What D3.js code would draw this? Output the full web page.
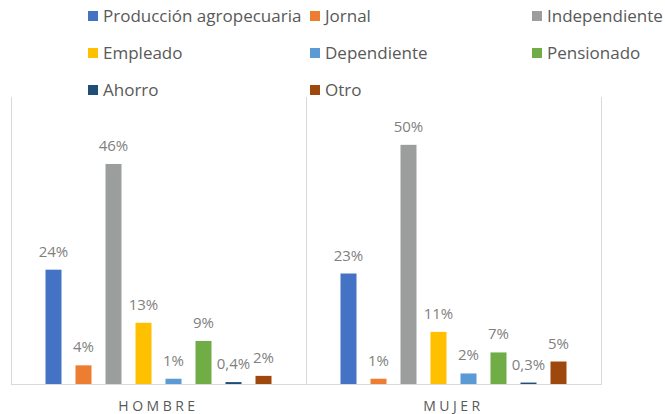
<!DOCTYPE html>
<html>
<head>
<meta charset="utf-8">
<script src="https://cdn.jsdelivr.net/npm/d3@7"></script>
<style>
  body { margin: 0; background: #fff; }
  text { font-family: "Open Sans", "Noto Sans", sans-serif; }
</style>
</head>
<body>
<div id="chart"></div>
<script>
// data
var groups = ["HOMBRE", "MUJER"];
var series = ["Producción agropecuaria", "Jornal", "Independiente", "Empleado",
              "Dependiente", "Pensionado", "Ahorro", "Otro"];
var colors = ["#4472C4", "#ED7D31", "#9C9E9E", "#FFC000",
              "#5B9BD5", "#70AD47", "#1F4E79", "#9E480E"];
var hombre = [23.9, 3.9, 46.0, 12.8, 1.1, 9.0, 0.4, 1.7];
var mujer  = [23.1, 1.1, 50.0, 10.9, 2.2, 6.6, 0.3, 4.7];
var yMax = 60;

var width = 665, height = 414;
var plot = {left: 11, right: 601, top: 97, bottom: 384};

var svg = d3.select("#chart").append("svg")
    .attr("width", width)
    .attr("height", height);

var x0 = d3.scaleBand()
    .domain(groups)
    .range([plot.left, plot.right]);

var x1 = d3.scaleBand()
    .domain(series)
    .range([0, x0.bandwidth()])
    .paddingInner(0.4667)
    .paddingOuter(1.15);

var y = d3.scaleLinear()
    .domain([0, yMax])
    .range([plot.bottom, plot.top]);

// vertical separators
var seps = groups.map(function(g) { return x0(g); }).concat([plot.right]);
svg.selectAll("line.sep")
    .data(seps)
  .enter().append("line")
    .attr("class", "sep")
    .attr("x1", function(d) { return Math.round(d) + 0.5; })
    .attr("x2", function(d) { return Math.round(d) + 0.5; })
    .attr("y1", plot.top)
    .attr("y2", plot.bottom)
    .attr("stroke", "#d9d9d9")
    .attr("stroke-width", 1);

var data = [
  {group: "HOMBRE", values: hombre},
  {group: "MUJER", values: mujer}
];

function fmt(v) {
  if (v < 1) return d3.format(".1f")(v).replace(".", ",") + "%";
  return Math.round(v) + "%";
}

var g = svg.selectAll("g.grp")
    .data(data)
  .enter().append("g")
    .attr("class", "grp")
    .attr("transform", function(d) { return "translate(" + x0(d.group) + ",0)"; });

g.selectAll("rect")
    .data(function(d) { return d.values.map(function(v, i) { return {s: series[i], v: v, c: colors[i]}; }); })
  .enter().append("rect")
    .attr("x", function(d) { return x1(d.s); })
    .attr("width", x1.bandwidth())
    .attr("y", function(d) { return y(d.v); })
    .attr("height", function(d) { return plot.bottom - y(d.v); })
    .attr("fill", function(d) { return d.c; });

g.selectAll("text.lbl")
    .data(function(d) { return d.values.map(function(v, i) { return {s: series[i], v: v}; }); })
  .enter().append("text")
    .attr("class", "lbl")
    .attr("x", function(d) { return x1(d.s) + x1.bandwidth() / 2; })
    .attr("y", function(d) { return y(d.v) - 13; })
    .attr("text-anchor", "middle")
    .attr("font-size", 15)
    .attr("fill", "#7f7f7f")
    .text(function(d) { return fmt(d.v); });

// baseline
svg.append("line")
    .attr("x1", plot.left)
    .attr("x2", plot.right + 1)
    .attr("y1", plot.bottom + 0.5)
    .attr("y2", plot.bottom + 0.5)
    .attr("stroke", "#d9d9d9");

// category labels
svg.selectAll("text.cat")
    .data(groups)
  .enter().append("text")
    .attr("class", "cat")
    .attr("x", function(d) { return x0(d) + x0.bandwidth() / 2; })
    .attr("y", 411)
    .attr("text-anchor", "middle")
    .attr("font-size", 14)
    .attr("letter-spacing", 3.5)
    .attr("fill", "#595959")
    .text(function(d) { return d; });

// legend, 3 columns
var legend = svg.selectAll("g.leg")
    .data(series)
  .enter().append("g")
    .attr("class", "leg")
    .attr("transform", function(d, i) {
      return "translate(" + (88 + (i % 3) * 222) + "," + (16 + Math.floor(i / 3) * 37) + ")";
    });

legend.append("rect")
    .attr("x", 0)
    .attr("y", -5)
    .attr("width", 10)
    .attr("height", 10)
    .attr("fill", function(d, i) { return colors[i]; });

legend.append("text")
    .attr("x", 15)
    .attr("y", 6)
    .attr("font-size", 17)
    .attr("fill", "#595959")
    .text(function(d) { return d; });
</script>
</body>
</html>
